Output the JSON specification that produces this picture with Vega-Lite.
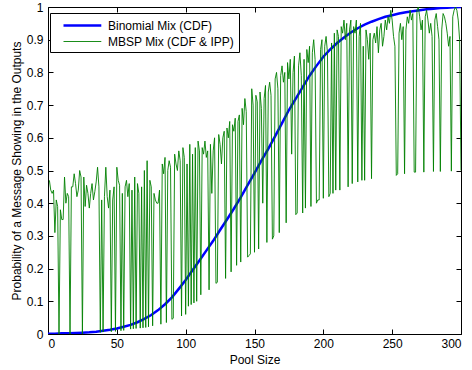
{
"$schema":"https://vega.github.io/schema/vega-lite/v6.json",
"width":413,"height":327,
"autosize":{"type":"none"},
"padding":{"left":48,"top":7,"right":11,"bottom":36},
"background":"white",
"config":{"font":"Liberation Sans","view":{"stroke":"black","strokeWidth":1},
 "axis":{"grid":false,"domain":false,"ticks":true,"tickColor":"black","tickSize":-5,"labelColor":"black","labelFontSize":12,"titleColor":"black","titleFontSize":12,"titleFontWeight":"normal","labelFont":"Liberation Sans","titleFont":"Liberation Sans"},
 "legend":{"labelFont":"Liberation Sans"}},
"datasets":{
"blue":[
{"s":"B","x":0,"y":0.001},{"s":"B","x":5,"y":0.001},{"s":"B","x":10,"y":0.002},{"s":"B","x":15,"y":0.002},{"s":"B","x":20,"y":0.003},{"s":"B","x":25,"y":0.004},{"s":"B","x":30,"y":0.005},{"s":"B","x":35,"y":0.007},{"s":"B","x":40,"y":0.01},{"s":"B","x":45,"y":0.013},{"s":"B","x":50,"y":0.017},{"s":"B","x":55,"y":0.022},{"s":"B","x":60,"y":0.028},{"s":"B","x":65,"y":0.036},{"s":"B","x":70,"y":0.046},{"s":"B","x":75,"y":0.058},{"s":"B","x":80,"y":0.073},{"s":"B","x":85,"y":0.091},{"s":"B","x":90,"y":0.112},{"s":"B","x":95,"y":0.138},{"s":"B","x":100,"y":0.165},{"s":"B","x":105,"y":0.195},{"s":"B","x":110,"y":0.225},{"s":"B","x":115,"y":0.255},{"s":"B","x":120,"y":0.285},{"s":"B","x":125,"y":0.318},{"s":"B","x":130,"y":0.35},{"s":"B","x":135,"y":0.383},{"s":"B","x":140,"y":0.418},{"s":"B","x":145,"y":0.455},{"s":"B","x":150,"y":0.492},{"s":"B","x":155,"y":0.53},{"s":"B","x":160,"y":0.566},{"s":"B","x":165,"y":0.605},{"s":"B","x":170,"y":0.645},{"s":"B","x":175,"y":0.685},{"s":"B","x":180,"y":0.72},{"s":"B","x":185,"y":0.755},{"s":"B","x":190,"y":0.79},{"s":"B","x":195,"y":0.82},{"s":"B","x":200,"y":0.848},{"s":"B","x":205,"y":0.87},{"s":"B","x":210,"y":0.89},{"s":"B","x":215,"y":0.907},{"s":"B","x":220,"y":0.922},{"s":"B","x":225,"y":0.935},{"s":"B","x":230,"y":0.946},{"s":"B","x":235,"y":0.955},{"s":"B","x":240,"y":0.963},{"s":"B","x":245,"y":0.97},{"s":"B","x":250,"y":0.975},{"s":"B","x":255,"y":0.98},{"s":"B","x":260,"y":0.984},{"s":"B","x":265,"y":0.987},{"s":"B","x":270,"y":0.99},{"s":"B","x":275,"y":0.993},{"s":"B","x":280,"y":0.995},{"s":"B","x":285,"y":0.997},{"s":"B","x":290,"y":0.998},{"s":"B","x":295,"y":0.999},{"s":"B","x":300,"y":1.0}
],
"green":[
{"s":"M","x":1,"y":0.47},{"s":"M","x":2,"y":0.44},{"s":"M","x":3,"y":0.43},{"s":"M","x":4,"y":0.44},{"s":"M","x":5,"y":0.31},{"s":"M","x":6,"y":0.41},{"s":"M","x":7,"y":0.39},{"s":"M","x":8,"y":0.0},{"s":"M","x":9,"y":0.38},{"s":"M","x":10,"y":0.35},
{"s":"M","x":11,"y":0.35},{"s":"M","x":12,"y":0.48},{"s":"M","x":13,"y":0.40},{"s":"M","x":14,"y":0.43},{"s":"M","x":15,"y":0.42},{"s":"M","x":16,"y":0.0},{"s":"M","x":17,"y":0.45},{"s":"M","x":18,"y":0.45},{"s":"M","x":19,"y":0.49},{"s":"M","x":20,"y":0.46},
{"s":"M","x":21,"y":0.42},{"s":"M","x":22,"y":0.44},{"s":"M","x":23,"y":0.50},{"s":"M","x":24,"y":0.48},{"s":"M","x":25,"y":0.0},{"s":"M","x":26,"y":0.48},{"s":"M","x":27,"y":0.39},{"s":"M","x":28,"y":0.455},{"s":"M","x":29,"y":0.43},{"s":"M","x":30,"y":0.385},
{"s":"M","x":31,"y":0.43},{"s":"M","x":32,"y":0.46},{"s":"M","x":33,"y":0.41},{"s":"M","x":34,"y":0.435},{"s":"M","x":35,"y":0.465},{"s":"M","x":36,"y":0.51},{"s":"M","x":37,"y":0.45},{"s":"M","x":38,"y":0.005},{"s":"M","x":39,"y":0.41},{"s":"M","x":40,"y":0.006},
{"s":"M","x":41,"y":0.42},{"s":"M","x":42,"y":0.51},{"s":"M","x":43,"y":0.42},{"s":"M","x":44,"y":0.385},{"s":"M","x":45,"y":0.44},{"s":"M","x":46,"y":0.007},{"s":"M","x":47,"y":0.41},{"s":"M","x":48,"y":0.45},{"s":"M","x":49,"y":0.008},{"s":"M","x":50,"y":0.51},
{"s":"M","x":51,"y":0.47},{"s":"M","x":52,"y":0.455},{"s":"M","x":53,"y":0.01},{"s":"M","x":54,"y":0.43},{"s":"M","x":55,"y":0.011},{"s":"M","x":56,"y":0.45},{"s":"M","x":57,"y":0.47},{"s":"M","x":58,"y":0.42},{"s":"M","x":59,"y":0.46},{"s":"M","x":60,"y":0.015},
{"s":"M","x":61,"y":0.44},{"s":"M","x":62,"y":0.016},{"s":"M","x":63,"y":0.48},{"s":"M","x":64,"y":0.017},{"s":"M","x":65,"y":0.46},{"s":"M","x":66,"y":0.43},{"s":"M","x":67,"y":0.018},{"s":"M","x":68,"y":0.45},{"s":"M","x":69,"y":0.019},{"s":"M","x":70,"y":0.50},
{"s":"M","x":71,"y":0.02},{"s":"M","x":72,"y":0.53},{"s":"M","x":73,"y":0.022},{"s":"M","x":74,"y":0.47},{"s":"M","x":75,"y":0.45},{"s":"M","x":76,"y":0.025},{"s":"M","x":77,"y":0.43},{"s":"M","x":78,"y":0.41},{"s":"M","x":79,"y":0.40},{"s":"M","x":80,"y":0.40},
{"s":"M","x":81,"y":0.44},{"s":"M","x":82,"y":0.03},{"s":"M","x":83,"y":0.52},{"s":"M","x":84,"y":0.49},{"s":"M","x":85,"y":0.54},{"s":"M","x":86,"y":0.035},{"s":"M","x":87,"y":0.50},{"s":"M","x":88,"y":0.53},{"s":"M","x":89,"y":0.51},{"s":"M","x":90,"y":0.045},
{"s":"M","x":91,"y":0.048},{"s":"M","x":92,"y":0.55},{"s":"M","x":93,"y":0.52},{"s":"M","x":94,"y":0.50},{"s":"M","x":95,"y":0.56},{"s":"M","x":96,"y":0.53},{"s":"M","x":97,"y":0.055},{"s":"M","x":98,"y":0.57},{"s":"M","x":99,"y":0.54},{"s":"M","x":100,"y":0.06},
{"s":"M","x":101,"y":0.52},{"s":"M","x":102,"y":0.085},{"s":"M","x":103,"y":0.58},{"s":"M","x":104,"y":0.09},{"s":"M","x":105,"y":0.55},{"s":"M","x":106,"y":0.095},{"s":"M","x":107,"y":0.57},{"s":"M","x":108,"y":0.10},{"s":"M","x":109,"y":0.59},{"s":"M","x":110,"y":0.56},
{"s":"M","x":111,"y":0.12},{"s":"M","x":112,"y":0.57},{"s":"M","x":113,"y":0.55},{"s":"M","x":114,"y":0.59},{"s":"M","x":115,"y":0.54},{"s":"M","x":116,"y":0.56},{"s":"M","x":117,"y":0.135},{"s":"M","x":118,"y":0.58},{"s":"M","x":119,"y":0.43},{"s":"M","x":120,"y":0.56},
{"s":"M","x":121,"y":0.60},{"s":"M","x":122,"y":0.155},{"s":"M","x":123,"y":0.158},{"s":"M","x":124,"y":0.61},{"s":"M","x":125,"y":0.58},{"s":"M","x":126,"y":0.52},{"s":"M","x":127,"y":0.60},{"s":"M","x":128,"y":0.62},{"s":"M","x":129,"y":0.17},{"s":"M","x":130,"y":0.63},
{"s":"M","x":131,"y":0.60},{"s":"M","x":132,"y":0.65},{"s":"M","x":133,"y":0.19},{"s":"M","x":134,"y":0.64},{"s":"M","x":135,"y":0.62},{"s":"M","x":136,"y":0.66},{"s":"M","x":137,"y":0.21},{"s":"M","x":138,"y":0.65},{"s":"M","x":139,"y":0.67},{"s":"M","x":140,"y":0.22},
{"s":"M","x":141,"y":0.69},{"s":"M","x":142,"y":0.64},{"s":"M","x":143,"y":0.72},{"s":"M","x":144,"y":0.68},{"s":"M","x":145,"y":0.235},{"s":"M","x":146,"y":0.24},{"s":"M","x":147,"y":0.245},{"s":"M","x":148,"y":0.75},{"s":"M","x":149,"y":0.70},{"s":"M","x":150,"y":0.25},
{"s":"M","x":151,"y":0.73},{"s":"M","x":152,"y":0.71},{"s":"M","x":153,"y":0.26},{"s":"M","x":154,"y":0.74},{"s":"M","x":155,"y":0.69},{"s":"M","x":156,"y":0.40},{"s":"M","x":157,"y":0.72},{"s":"M","x":158,"y":0.76},{"s":"M","x":159,"y":0.28},{"s":"M","x":160,"y":0.74},
{"s":"M","x":161,"y":0.77},{"s":"M","x":162,"y":0.73},{"s":"M","x":163,"y":0.29},{"s":"M","x":164,"y":0.30},{"s":"M","x":165,"y":0.78},{"s":"M","x":166,"y":0.80},{"s":"M","x":167,"y":0.75},{"s":"M","x":168,"y":0.31},{"s":"M","x":169,"y":0.79},{"s":"M","x":170,"y":0.82},
{"s":"M","x":171,"y":0.77},{"s":"M","x":172,"y":0.80},{"s":"M","x":173,"y":0.34},{"s":"M","x":174,"y":0.83},{"s":"M","x":175,"y":0.78},{"s":"M","x":176,"y":0.84},{"s":"M","x":177,"y":0.55},{"s":"M","x":178,"y":0.80},{"s":"M","x":179,"y":0.85},{"s":"M","x":180,"y":0.365},
{"s":"M","x":181,"y":0.37},{"s":"M","x":182,"y":0.82},{"s":"M","x":183,"y":0.86},{"s":"M","x":184,"y":0.79},{"s":"M","x":185,"y":0.37},{"s":"M","x":186,"y":0.84},{"s":"M","x":187,"y":0.385},{"s":"M","x":188,"y":0.87},{"s":"M","x":189,"y":0.83},{"s":"M","x":190,"y":0.88},
{"s":"M","x":191,"y":0.39},{"s":"M","x":192,"y":0.86},{"s":"M","x":193,"y":0.90},{"s":"M","x":194,"y":0.84},{"s":"M","x":195,"y":0.40},{"s":"M","x":196,"y":0.41},{"s":"M","x":197,"y":0.41},{"s":"M","x":198,"y":0.87},{"s":"M","x":199,"y":0.90},{"s":"M","x":200,"y":0.415},
{"s":"M","x":201,"y":0.88},{"s":"M","x":202,"y":0.91},{"s":"M","x":203,"y":0.86},{"s":"M","x":204,"y":0.42},{"s":"M","x":205,"y":0.43},{"s":"M","x":206,"y":0.89},{"s":"M","x":207,"y":0.43},{"s":"M","x":208,"y":0.92},{"s":"M","x":209,"y":0.44},{"s":"M","x":210,"y":0.93},
{"s":"M","x":211,"y":0.91},{"s":"M","x":212,"y":0.44},{"s":"M","x":213,"y":0.94},{"s":"M","x":214,"y":0.92},{"s":"M","x":215,"y":0.96},{"s":"M","x":216,"y":0.90},{"s":"M","x":217,"y":0.95},{"s":"M","x":218,"y":0.45},{"s":"M","x":219,"y":0.93},{"s":"M","x":220,"y":0.96},
{"s":"M","x":221,"y":0.46},{"s":"M","x":222,"y":0.94},{"s":"M","x":223,"y":0.92},{"s":"M","x":224,"y":0.96},{"s":"M","x":225,"y":0.465},{"s":"M","x":226,"y":0.91},{"s":"M","x":227,"y":0.95},{"s":"M","x":228,"y":0.47},{"s":"M","x":229,"y":0.88},{"s":"M","x":230,"y":0.47},
{"s":"M","x":231,"y":0.93},{"s":"M","x":232,"y":0.90},{"s":"M","x":233,"y":0.84},{"s":"M","x":234,"y":0.92},{"s":"M","x":235,"y":0.475},{"s":"M","x":236,"y":0.90},{"s":"M","x":237,"y":0.92},{"s":"M","x":238,"y":0.89},{"s":"M","x":239,"y":0.94},{"s":"M","x":240,"y":0.86},
{"s":"M","x":241,"y":0.93},{"s":"M","x":242,"y":0.95},{"s":"M","x":243,"y":0.88},{"s":"M","x":244,"y":0.91},{"s":"M","x":245,"y":0.96},{"s":"M","x":246,"y":0.93},{"s":"M","x":247,"y":0.97},{"s":"M","x":248,"y":0.95},{"s":"M","x":249,"y":0.99},{"s":"M","x":250,"y":0.96},
{"s":"M","x":251,"y":0.91},{"s":"M","x":252,"y":0.88},{"s":"M","x":253,"y":0.485},{"s":"M","x":254,"y":0.49},{"s":"M","x":255,"y":0.92},{"s":"M","x":256,"y":0.95},{"s":"M","x":257,"y":0.90},{"s":"M","x":258,"y":0.94},{"s":"M","x":259,"y":0.49},{"s":"M","x":260,"y":0.93},
{"s":"M","x":261,"y":0.97},{"s":"M","x":262,"y":0.95},{"s":"M","x":263,"y":0.99},{"s":"M","x":264,"y":0.96},{"s":"M","x":265,"y":0.98},{"s":"M","x":266,"y":0.495},{"s":"M","x":267,"y":0.495},{"s":"M","x":268,"y":0.99},{"s":"M","x":269,"y":1.0},{"s":"M","x":270,"y":0.97},
{"s":"M","x":271,"y":0.93},{"s":"M","x":272,"y":0.96},{"s":"M","x":273,"y":0.495},{"s":"M","x":274,"y":0.97},{"s":"M","x":275,"y":0.99},{"s":"M","x":276,"y":0.96},{"s":"M","x":277,"y":0.92},{"s":"M","x":278,"y":0.95},{"s":"M","x":279,"y":0.91},{"s":"M","x":280,"y":0.497},
{"s":"M","x":281,"y":0.96},{"s":"M","x":282,"y":0.98},{"s":"M","x":283,"y":0.94},{"s":"M","x":284,"y":0.90},{"s":"M","x":285,"y":0.497},{"s":"M","x":286,"y":0.93},{"s":"M","x":287,"y":0.98},{"s":"M","x":288,"y":0.97},{"s":"M","x":289,"y":0.95},{"s":"M","x":290,"y":0.92},
{"s":"M","x":291,"y":0.88},{"s":"M","x":292,"y":0.91},{"s":"M","x":293,"y":0.498},{"s":"M","x":294,"y":0.97},{"s":"M","x":295,"y":0.99},{"s":"M","x":296,"y":1.0},{"s":"M","x":297,"y":0.99},{"s":"M","x":298,"y":0.96},{"s":"M","x":299,"y":0.90},{"s":"M","x":300,"y":0.50}
]},
"layer":[
 {"data":{"name":"blue"},"mark":{"type":"line","clip":true},
  "encoding":{
   "x":{"field":"x","type":"quantitative","scale":{"domain":[0,300],"nice":false},"axis":{"orient":"bottom","values":[0,50,100,150,200,250,300],"title":"Pool Size","labelPadding":9,"titlePadding":5}},
   "y":{"field":"y","type":"quantitative","scale":{"domain":[0,1],"nice":false},"axis":{"orient":"left","values":[0,0.1,0.2,0.3,0.4,0.5,0.6,0.7,0.8,0.9,1],"format":"~g","title":"Probability of a Message Showing in the Outputs","labelPadding":10,"titlePadding":3}},
   "color":{"field":"s","type":"nominal","scale":{"domain":["B","M"],"range":["#0000ff","#008000"]},"legend":{"orient":"none","legendX":2,"legendY":6,"title":null,"labelExpr":"datum.label == 'B' ? 'Binomial Mix (CDF)' : 'MBSP Mix (CDF & IPP)'","symbolType":"M-1,0H4.4","symbolSize":196,"symbolOffset":8,"rowPadding":2,"labelFontSize":12,"labelColor":"black","strokeColor":"black","fillColor":"white","padding":4,"cornerRadius":0,"labelOffset":29}},
   "strokeWidth":{"field":"s","type":"nominal","scale":{"domain":["B","M"],"range":[2.5,0.9]},"legend":{"orient":"none","legendX":2,"legendY":6,"title":null,"labelExpr":"datum.label == 'B' ? 'Binomial Mix (CDF)' : 'MBSP Mix (CDF & IPP)'","symbolType":"M-1,0H4.4","symbolSize":196,"symbolOffset":8,"rowPadding":2,"labelFontSize":12,"labelColor":"black","strokeColor":"black","fillColor":"white","padding":4,"cornerRadius":0,"labelOffset":29}}
  }},
 {"data":{"name":"green"},"mark":{"type":"line","clip":true},
  "encoding":{
   "x":{"field":"x","type":"quantitative","axis":null},
   "y":{"field":"y","type":"quantitative","axis":null},
   "color":{"field":"s","type":"nominal"},
   "strokeWidth":{"field":"s","type":"nominal"}
  }},
 {"data":{"name":"blue"},"mark":{"type":"point","opacity":0},
  "encoding":{
   "x":{"field":"x","type":"quantitative","axis":{"orient":"top","values":[0,50,100,150,200,250,300],"labels":false,"title":null}},
   "y":{"field":"y","type":"quantitative","axis":{"orient":"right","values":[0,0.1,0.2,0.3,0.4,0.5,0.6,0.7,0.8,0.9,1],"labels":false,"title":null}}
  }}
],
"resolve":{"axis":{"x":"independent","y":"independent"}}
}
